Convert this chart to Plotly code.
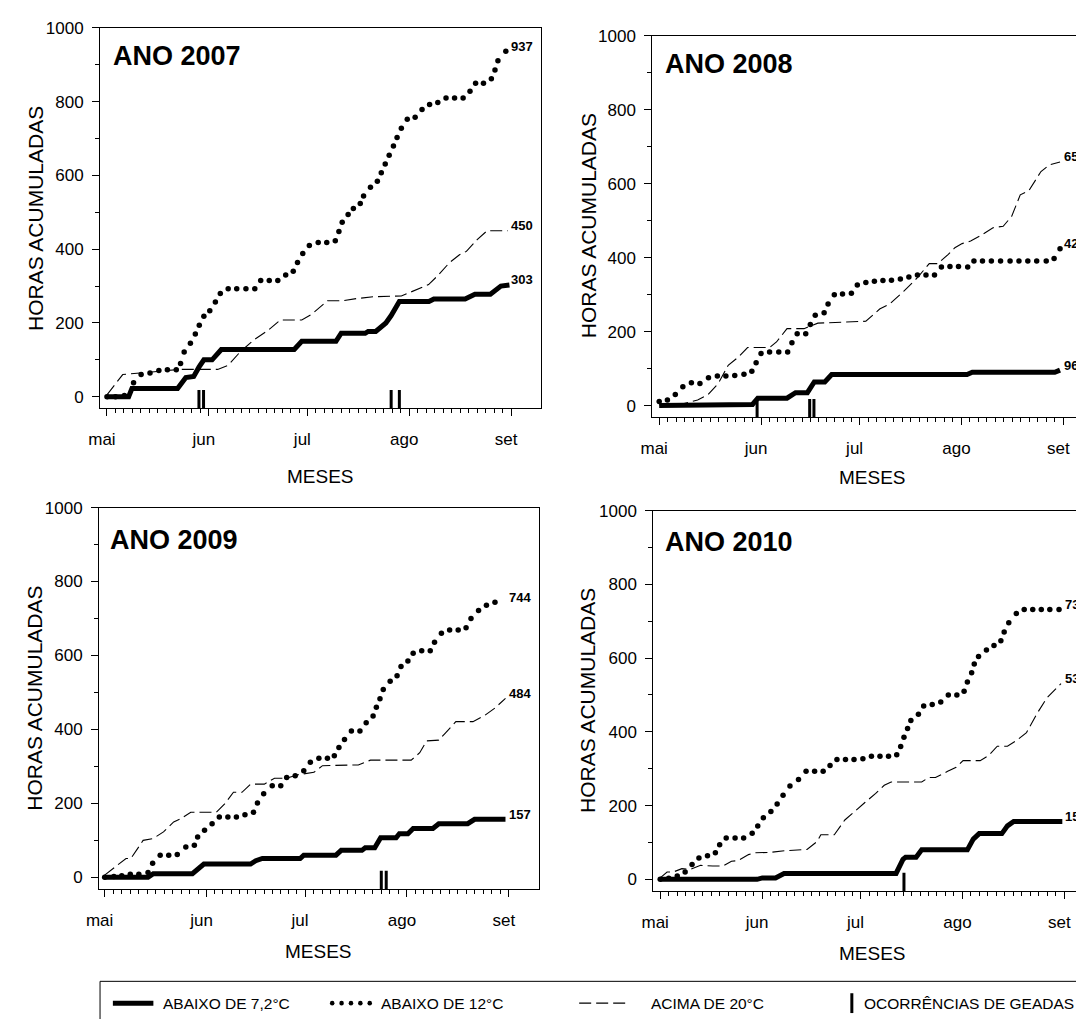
import plotly.graph_objects as go

# ---------------- data (day offset from 1 May, accumulated hours) ----------------
MONTH_STARTS = [0, 31, 61, 92, 123]
MONTH_LABELS = ["mai", "jun", "jul", "ago", "set"]
MONTH_LENGTHS = [31, 30, 31, 31]
Y_TICKS = [0, 200, 400, 600, 800, 1000]

years = ["2007", "2008", "2009", "2010"]

# 2007
solid_days_2007 = [0, 6.6, 7.6, 21.5, 24, 26.4, 28, 29.5, 32, 34.8, 57, 59.3, 69.7, 71.3, 78.6, 79.5, 81.8, 84.9, 86.5, 89, 98, 99.5, 109, 112, 116.7, 119.9, 122.5]
solid_vals_2007 = [0, 0, 22, 22, 52, 55, 80, 100, 100, 128, 128, 150, 150, 172, 172, 177, 177, 200, 220, 258, 258, 265, 265, 278, 278, 300, 303]
dotted_days_2007 = [0, 2.6, 5.3, 8.1, 10.4, 13.1, 15.8, 18.4, 21.1, 22.4, 23.5, 25.4, 26.9, 28.1, 29.5, 31.3, 33, 34.5, 36.9, 39.5, 42.3, 45, 46.8, 49.4, 52, 54.4, 56.7, 58, 59.6, 61.6, 64.3, 66.9, 69.5, 70.6, 71.6, 73.4, 75, 77.1, 78.1, 80.2, 82.3, 83.5, 84.7, 85.9, 87.2, 88.3, 89.6, 91.4, 93.8, 95.9, 98.2, 100.7, 103.2, 105.8, 108.4, 110.5, 112.2, 114.6, 117, 118.1, 119, 121.4]
dotted_vals_2007 = [0, 0, 3, 38, 60, 64, 71, 73, 73, 90, 121, 145, 170, 194, 218, 233, 257, 280, 293, 293, 293, 293, 315, 315, 315, 330, 340, 364, 388, 410, 418, 418, 423, 448, 473, 494, 510, 524, 544, 568, 584, 607, 631, 655, 680, 703, 728, 752, 758, 779, 792, 798, 810, 810, 810, 828, 850, 850, 862, 886, 911, 937]
dashed_days_2007 = [0, 4.8, 13.6, 22, 33.7, 36.9, 40.5, 44.7, 48.9, 52.8, 59.3, 62.4, 67.1, 71.8, 76, 81.2, 89.6, 92.7, 97.9, 101, 104.2, 107.3, 109.4, 112.6, 115.7, 122]
dashed_vals_2007 = [5, 60, 67, 74, 74, 85, 121, 154, 179, 208, 208, 224, 260, 260, 266, 271, 273, 284, 304, 331, 363, 385, 394, 425, 450, 450]
frost_days_2007 = [28, 29.4, 86.5, 89]
end_labels_2007 = ["937", "450", "303"]
end_values_2007 = [937, 450, 303]

# 2008
solid_days_2008 = [0, 4.4, 5.5, 28.4, 30, 38.9, 41.5, 45.1, 47.2, 50.4, 52.5, 93.7, 95.3, 120.4, 122]
solid_vals_2008 = [0, 0, 3, 3, 20, 20, 35, 35, 64, 64, 84, 84, 90, 90, 96]
dotted_days_2008 = [0, 2.5, 4.9, 7.2, 9.8, 12.4, 15, 17.7, 20.3, 23, 25.8, 28.2, 29.5, 31, 33.6, 36.4, 39.1, 40.4, 42, 44.6, 46, 47.5, 50.2, 51.4, 53.3, 55.8, 58.5, 60.3, 62.9, 65.5, 68.1, 70.7, 73.4, 76, 78.6, 81.2, 83.8, 85.9, 88.5, 91.1, 93.9, 95.8, 98.4, 101.1, 103.9, 106.8, 109.5, 112.2, 114.9, 117.8, 120.2, 122]
dotted_vals_2008 = [11, 15, 30, 51, 62, 60, 75, 80, 80, 81, 85, 93, 116, 141, 145, 145, 145, 170, 194, 194, 219, 244, 251, 275, 300, 302, 304, 326, 333, 336, 338, 339, 342, 348, 353, 353, 353, 375, 376, 376, 375, 391, 391, 391, 391, 391, 391, 391, 391, 391, 398, 424]
dashed_days_2008 = [0, 7, 11.7, 14.8, 18, 21, 24.2, 26.9, 33.6, 35.7, 38.9, 44.1, 48.3, 54.5, 62.9, 67.1, 70.2, 74.4, 78.6, 82.2, 84.8, 88, 90, 92.2, 94.8, 97.9, 101.6, 104.7, 107.3, 109.9, 112.5, 116.2, 118.8, 122]
dashed_vals_2008 = [2, 4, 15, 29, 60, 109, 132, 157, 157, 172, 208, 208, 223, 225, 228, 261, 275, 309, 346, 384, 384, 409, 427, 438, 445, 460, 481, 485, 512, 570, 581, 633, 651, 659]
frost_days_2008 = [29.8, 45.8, 47.1]
end_labels_2008 = ["659", "424", "96"]
end_values_2008 = [659, 424, 96]

# 2009
solid_days_2009 = [0, 13.2, 14.8, 26.7, 30.2, 44.4, 46, 48, 59.5, 60.6, 70.4, 72, 78.3, 79.3, 82.2, 84, 88.7, 89.7, 92.3, 93.9, 99.9, 101.7, 110.5, 112.6, 122]
solid_vals_2009 = [0, 0, 10, 10, 36, 36, 45, 51, 51, 60, 60, 73, 73, 80, 80, 107, 107, 118, 118, 132, 132, 145, 145, 157, 157]
dotted_days_2009 = [0, 2.8, 5.2, 7.8, 10.4, 13.2, 14.6, 16.9, 19.5, 22.1, 24.7, 27.3, 28.3, 30.4, 32.7, 34.9, 37.5, 40.1, 42.7, 45.3, 46.5, 48.4, 51, 53.6, 55.4, 58, 60.6, 62.6, 65.2, 67.8, 69.9, 71.3, 73, 75.1, 77.7, 79.6, 81.7, 82.7, 83.8, 84.8, 86.9, 89, 90.2, 92.3, 93.9, 96.5, 99.1, 100.4, 102.5, 105, 107.6, 110, 111.5, 113.8, 116.2, 118.8]
dotted_vals_2009 = [0, 2, 4, 8, 8, 13, 38, 60, 60, 62, 82, 87, 109, 127, 145, 163, 163, 163, 169, 176, 201, 226, 248, 248, 270, 275, 288, 311, 322, 322, 329, 351, 373, 396, 396, 418, 436, 460, 483, 508, 530, 545, 570, 585, 606, 613, 613, 636, 660, 669, 669, 675, 700, 722, 736, 744]
dashed_days_2009 = [0, 3.3, 6.5, 8, 11.7, 14.8, 17.9, 21, 23.1, 26.2, 34, 36.6, 39.2, 41.8, 44.4, 48.6, 51.7, 55.4, 58.5, 63.7, 66.3, 77.2, 80.9, 93.3, 95.9, 98, 101.7, 103.7, 106.9, 112.1, 115.7, 118.8, 122]
dashed_vals_2009 = [6, 29, 51, 51, 100, 105, 123, 150, 158, 176, 176, 199, 230, 230, 252, 252, 268, 268, 277, 284, 302, 304, 317, 317, 337, 369, 371, 390, 421, 421, 438, 458, 484]
frost_days_2009 = [84.2, 85.7]
end_labels_2009 = ["744", "484", "157"]
end_values_2009 = [744, 484, 157]

# 2010
solid_days_2010 = [0, 29.5, 31.1, 35.1, 37.7, 71.8, 73.9, 74.7, 77.9, 79.6, 93.5, 95.3, 97.1, 104, 105.7, 107.6, 122.4]
solid_vals_2010 = [0, 0, 4, 4, 16, 16, 54, 60, 60, 80, 80, 109, 124, 124, 145, 157, 157]
dotted_days_2010 = [0, 2.6, 5.2, 7.6, 9.7, 11.8, 14.4, 16.8, 18.1, 20.1, 22.8, 25.4, 28, 29.7, 31.4, 33.7, 35.6, 37.4, 39.5, 42.1, 44.4, 47, 49.6, 51.7, 53.8, 56.4, 59, 61.7, 64.3, 66.9, 69.5, 72, 73.2, 74.2, 75.3, 76.3, 78.6, 80.2, 82.8, 85.4, 87.7, 90.3, 92.5, 93.5, 94.8, 95.6, 96.9, 99.3, 101.6, 103.7, 104.7, 106.1, 108.4, 110.8, 113.4, 116, 118.6, 121.4]
dotted_vals_2010 = [0, 3, 9, 20, 40, 58, 64, 72, 94, 112, 112, 112, 125, 145, 167, 184, 204, 228, 253, 271, 293, 293, 293, 309, 325, 325, 325, 327, 334, 334, 334, 338, 360, 385, 409, 431, 448, 470, 474, 481, 500, 500, 510, 535, 560, 584, 604, 622, 634, 647, 671, 696, 721, 732, 732, 732, 732, 732]
dashed_days_2010 = [0, 2.1, 4, 6.6, 9.2, 12.3, 16, 19.1, 21.7, 23.8, 26.9, 29, 33.2, 38.4, 44.7, 47.8, 48.9, 53, 56.2, 59.3, 62.4, 65.6, 68.2, 70.3, 79.6, 81.7, 83.8, 87.5, 90.1, 92.2, 97.4, 100, 102.6, 105.7, 108.4, 111.5, 114.6, 117.7, 122]
dashed_vals_2010 = [4, 20, 20, 29, 27, 38, 36, 36, 49, 51, 67, 72, 73, 78, 81, 103, 121, 121, 161, 186, 209, 233, 255, 264, 264, 276, 276, 293, 304, 322, 322, 336, 361, 361, 376, 398, 448, 492, 531]
frost_days_2010 = [74.2]
end_labels_2010 = ["732", "531", "158"]
end_values_2010 = [732, 531, 158]

legend_labels = ["ABAIXO DE 7,2°C", "ABAIXO DE 12°C", "ACIMA DE 20°C", "OCORRÊNCIAS DE GEADAS"]

# ---------------- layout geometry (page pixels) ----------------
PAGE_W, PAGE_H = 1084, 1019
OFF = 8                      # default body margin of the html page
W, H = PAGE_W - OFF, PAGE_H - OFF
FONT = "Liberation Sans, Arial, sans-serif"
Y_MIN, Y_MAX = -32, 1000
FROST_TOP = 18
LABEL_X = 122.5

panel_geom = [
    dict(l=88, r=534, t=19, b=403, xr=[-2.105, 132.0], ymirror=True, title=(99, 47), ytitle=(22, 211), xtitle=(311, 472)),
    dict(l=647, r=1084, t=27, b=412, xr=[-2.105, 129.3], ymirror=False, title=(658, 55), ytitle=(582, 219), xtitle=(870, 473)),
    dict(l=87, r=532, t=503, b=888, xr=[-1.71, 132.1], ymirror=True, title=(96, 536), ytitle=(22, 695), xtitle=(309, 951)),
    dict(l=648, r=1084, t=506, b=890, xr=[-2.105, 129.0], ymirror=False, title=(658, 538), ytitle=(582, 698), xtitle=(870, 953)),
]

series = {
    "2007": (solid_days_2007, solid_vals_2007, dotted_days_2007, dotted_vals_2007, dashed_days_2007, dashed_vals_2007, frost_days_2007, end_labels_2007, end_values_2007),
    "2008": (solid_days_2008, solid_vals_2008, dotted_days_2008, dotted_vals_2008, dashed_days_2008, dashed_vals_2008, frost_days_2008, end_labels_2008, end_values_2008),
    "2009": (solid_days_2009, solid_vals_2009, dotted_days_2009, dotted_vals_2009, dashed_days_2009, dashed_vals_2009, frost_days_2009, end_labels_2009, end_values_2009),
    "2010": (solid_days_2010, solid_vals_2010, dotted_days_2010, dotted_vals_2010, dashed_days_2010, dashed_vals_2010, frost_days_2010, end_labels_2010, end_values_2010),
}


def px2x(p):
    return (p - OFF) / W


def px2y(p):
    return 1 - (p - OFF) / H


minor_x = []
for s, n in zip(MONTH_STARTS[:-1], MONTH_LENGTHS):
    for k in range(1, 12):
        minor_x.append(s + k * n / 12)

fig = go.Figure()
annotations = []
shapes = []

DASH_DASH = "12px,5px"
DOT_SIZE = 5.5

for i, (yr, g) in enumerate(zip(years, panel_geom)):
    xa = "x" if i == 0 else f"x{i+1}"
    ya = "y" if i == 0 else f"y{i+1}"
    sd, sv, dd, dv, ad, av, fd, labs, labv = series[yr]

    fig.add_trace(go.Scatter(x=ad, y=av, mode="lines", xaxis=xa, yaxis=ya,
                             line=dict(color="black", width=1.1, dash=DASH_DASH), showlegend=False, hoverinfo="skip"))
    fig.add_trace(go.Scatter(x=dd, y=dv, mode="markers", xaxis=xa, yaxis=ya,
                             marker=dict(color="black", size=DOT_SIZE, line=dict(width=0)), showlegend=False, hoverinfo="skip"))
    fig.add_trace(go.Scatter(x=sd, y=sv, mode="lines", xaxis=xa, yaxis=ya,
                             line=dict(color="black", width=5), showlegend=False, hoverinfo="skip"))
    fx, fy = [], []
    for d in fd:
        fx += [d, d, None]
        fy += [Y_MIN, FROST_TOP, None]
    fig.add_trace(go.Scatter(x=fx, y=fy, mode="lines", xaxis=xa, yaxis=ya,
                             line=dict(color="black", width=3), showlegend=False, hoverinfo="skip"))

    xkey = "xaxis" if i == 0 else f"xaxis{i+1}"
    ykey = "yaxis" if i == 0 else f"yaxis{i+1}"
    fig.layout[xkey] = dict(
        domain=[px2x(g["l"]), min(1.0, px2x(g["r"]))], range=g["xr"], anchor=ya,
        tickmode="array", tickvals=MONTH_STARTS, ticktext=MONTH_LABELS,
        ticks="outside", ticklen=7, tickwidth=1, tickcolor="black",
        showline=True, linecolor="black", linewidth=1, mirror=True,
        showgrid=False, zeroline=False, ticklabelshift=-5, ticklabelstandoff=8,
        tickfont=dict(family=FONT, size=17, color="black"),
        minor=dict(tickmode="array", tickvals=minor_x, ticks="outside", ticklen=4,
                   tickwidth=1, tickcolor="black", showgrid=False),
        fixedrange=True,
    )
    fig.layout[ykey] = dict(
        domain=[px2y(g["b"]), px2y(g["t"])], range=[Y_MIN, Y_MAX], anchor=xa,
        tickmode="array", tickvals=Y_TICKS,
        ticks="outside", ticklen=7, tickwidth=1, tickcolor="black",
        showline=True, linecolor="black", linewidth=1, mirror=g["ymirror"],
        showgrid=False, zeroline=False, ticklabelstandoff=5,
        tickfont=dict(family=FONT, size=17, color="black"),
        minor=dict(dtick=100, tick0=0, ticks="outside", ticklen=4, tickwidth=1,
                   tickcolor="black", showgrid=False),
        fixedrange=True,
    )

    for t, v in zip(labs, labv):
        annotations.append(dict(x=LABEL_X, y=v, xref=xa, yref=ya, text=f"<b>{t}</b>",
                                showarrow=False, xanchor="left", yanchor="middle", yshift=5,
                                font=dict(family=FONT, size=13, color="black")))
    tx, ty = g["title"]
    annotations.append(dict(x=px2x(tx), y=px2y(ty), xref="paper", yref="paper",
                            text=f"<b>ANO {yr}</b>", showarrow=False, xanchor="left", yanchor="middle",
                            font=dict(family=FONT, size=27, color="black")))
    yx, yy = g["ytitle"]
    annotations.append(dict(x=px2x(yx), y=px2y(yy), xref="paper", yref="paper",
                            text="HORAS ACUMULADAS", textangle=-90, showarrow=False,
                            xanchor="center", yanchor="middle",
                            font=dict(family=FONT, size=21, color="black")))
    mx, my = g["xtitle"]
    annotations.append(dict(x=px2x(mx), y=px2y(my), xref="paper", yref="paper",
                            text="MESES", showarrow=False, xanchor="center", yanchor="middle",
                            font=dict(family=FONT, size=19, color="black")))

# ---------------- legend box (drawn) ----------------
LEG_Y = 1003
shapes.append(dict(type="rect", xref="paper", yref="paper",
                   x0=px2x(88), x1=px2x(1120), y0=px2y(981), y1=px2y(1040),
                   line=dict(color="black", width=1), fillcolor="rgba(0,0,0,0)"))
shapes.append(dict(type="line", xref="paper", yref="paper", x0=px2x(101), x1=px2x(142),
                   y0=px2y(LEG_Y), y1=px2y(LEG_Y), line=dict(color="black", width=5)))
for cx in [323, 332.5, 342, 351.5, 361]:
    shapes.append(dict(type="circle", xref="paper", yref="paper",
                       x0=px2x(cx - 2.3), x1=px2x(cx + 2.3), y0=px2y(LEG_Y - 2.3), y1=px2y(LEG_Y + 2.3),
                       fillcolor="black", line=dict(width=0)))
shapes.append(dict(type="line", xref="paper", yref="paper", x0=px2x(573), x1=px2x(624),
                   y0=px2y(LEG_Y), y1=px2y(LEG_Y), line=dict(color="black", width=1.1, dash=DASH_DASH)))
shapes.append(dict(type="line", xref="paper", yref="paper", x0=px2x(849), x1=px2x(849),
                   y0=px2y(LEG_Y - 10), y1=px2y(LEG_Y + 10), line=dict(color="black", width=3)))
for txt, xp in zip(legend_labels, [150, 370, 644, 859]):
    annotations.append(dict(x=px2x(xp), y=px2y(LEG_Y), xref="paper", yref="paper", text=txt,
                            showarrow=False, xanchor="left", yanchor="middle",
                            font=dict(family=FONT, size=15.5, color="black")))

fig.update_layout(
    width=W, height=H, autosize=False,
    margin=dict(l=0, r=0, t=0, b=0, pad=0),
    paper_bgcolor="white", plot_bgcolor="white",
    showlegend=False,
    annotations=annotations, shapes=shapes,
)

fig.write_html("out.html", config={"displayModeBar": False})
